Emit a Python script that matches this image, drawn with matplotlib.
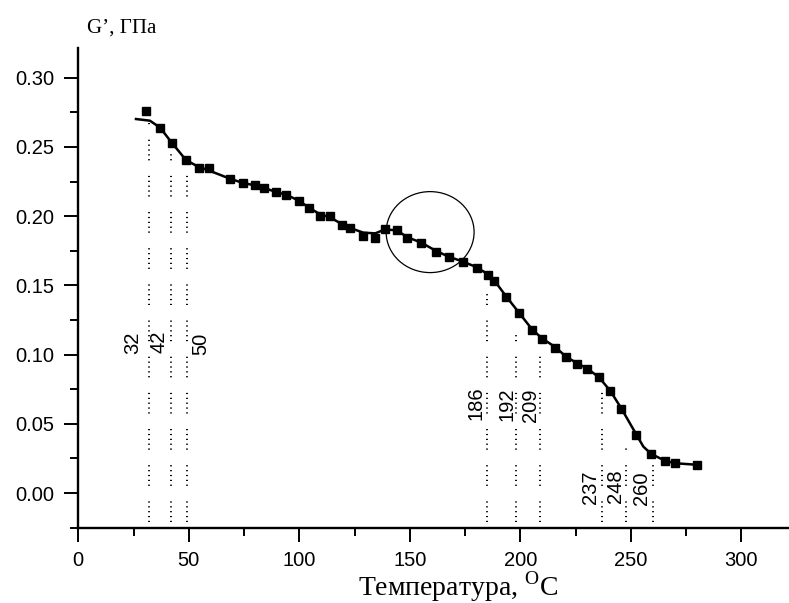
import matplotlib
matplotlib.use("Agg")
import matplotlib.pyplot as plt
from matplotlib.patches import Ellipse
from matplotlib.ticker import MultipleLocator

plt.rcParams['font.family'] = ['Liberation Sans', 'DejaVu Sans']
plt.rcParams['mathtext.fontset'] = 'custom'
plt.rcParams['mathtext.rm'] = 'Liberation Serif'

# measured points (temperature, G')
temp = [30.6, 37.0, 42.3, 48.7, 54.8, 59.3, 68.6, 74.7, 80.0, 84.2, 89.3, 94.0,
        99.9, 104.4, 109.4, 113.9, 119.5, 122.9, 129.0, 134.4, 138.8, 144.3,
        148.9, 155.2, 161.9, 167.7, 174.2, 180.3, 185.4, 188.1, 193.5, 199.4,
        205.3, 210.0, 215.8, 220.7, 225.8, 230.2, 235.6, 240.7, 245.7, 252.4,
        259.3, 265.5, 270.1, 280.0]
gmod = [0.2762, 0.2640, 0.2531, 0.2406, 0.2351, 0.2346, 0.2271, 0.2240, 0.2228,
        0.2206, 0.2177, 0.2155, 0.2110, 0.2057, 0.2001, 0.2001, 0.1934, 0.1917,
        0.1859, 0.1840, 0.1908, 0.1900, 0.1845, 0.1809, 0.1741, 0.1705, 0.1671,
        0.1624, 0.1575, 0.1534, 0.1418, 0.1298, 0.1178, 0.1111, 0.1046, 0.0980,
        0.0932, 0.0898, 0.0836, 0.0739, 0.0607, 0.0421, 0.0282, 0.0233, 0.0219,
        0.0204]

# smoothed curve as drawn in the picture
curve_t = [26.1, 32.4, 37.0, 42.3, 46.1, 48.7, 53.6, 59.6, 68.6, 74.5, 79.9,
           84.4, 89.5, 94.3, 99.9, 104.4, 109.4, 114.2, 119.5, 123.3, 129.0,
           134.4, 138.8, 144.2, 148.9, 155.2, 161.9, 167.7, 174.2, 180.3, 185.4,
           188.1, 193.5, 199.4, 205.3, 210.0, 215.8, 220.7, 225.8, 230.2, 235.6,
           240.7, 245.7, 252.4, 255.7, 259.3, 265.5, 270.1, 280.0]
curve_g = [0.2702, 0.2690, 0.2640, 0.2531, 0.2457, 0.2406, 0.2363, 0.2327,
           0.2271, 0.2240, 0.2223, 0.2202, 0.2175, 0.2153, 0.2112, 0.2061,
           0.2014, 0.1989, 0.1941, 0.1913, 0.1881, 0.1876, 0.1905, 0.1897,
           0.1848, 0.1809, 0.1749, 0.1707, 0.1671, 0.1631, 0.1580, 0.1539,
           0.1423, 0.1303, 0.1183, 0.1115, 0.1055, 0.0985, 0.0937, 0.0901,
           0.0836, 0.0739, 0.0612, 0.0426, 0.0335, 0.0282, 0.0233, 0.0215,
           0.0204]

# transition markers
mark_x = [32, 42, 49, 185, 198, 209, 237, 248, 260]
mark_top = [0.267, 0.2466, 0.239, 0.145, 0.1156, 0.1055, 0.078, 0.033, 0.021]
mark_labels = ['32', '42', '50', '186', '192', '209', '237', '248', '260']
label_x = [24.4, 36.5, 55.4, 179.9, 194.2, 204.8, 231.9, 243.2, 254.8]
label_y = [0.1082, 0.1093, 0.1077, 0.0648, 0.0643, 0.0636, 0.0041, 0.0046, 0.0034]

x_ticks = [0, 50, 100, 150, 200, 250, 300]
y_ticks = [0.00, 0.05, 0.10, 0.15, 0.20, 0.25, 0.30]

fig = plt.figure(figsize=(7.89, 6.03), dpi=100)
ax = fig.add_axes([78.3 / 789, 1 - 528.3 / 603, 1 - 78.3 / 789, (528.3 - 48.3) / 603])

ax.set_xlim(0, 321.6)
ax.set_ylim(-0.0255, 0.3213)

dash = (0, (0.6, 1.9, 0.6, 1.9, 0.6, 1.9, 0.6, 1.9, 0.6, 8))
for mx, mt in zip(mark_x, mark_top):
    ax.plot([mx, mx], [-0.021, mt], color='black', lw=1.4, linestyle=dash)

for lx, ly, lt in zip(label_x, label_y, mark_labels):
    ax.text(lx, ly, lt, rotation=90, ha='center', va='center', fontsize=14.5)

ax.plot(curve_t, curve_g, color='black', lw=1.8, zorder=3)
ax.plot(temp, gmod, linestyle='none', marker='s', ms=5.8, color='black', zorder=4)

ax.add_patch(Ellipse((159.2, 0.1885), 39.8, 0.0585, fill=False, edgecolor='black',
                     lw=0.9, zorder=2))

for s in ['top', 'right']:
    ax.spines[s].set_visible(False)
for s in ['left', 'bottom']:
    ax.spines[s].set_linewidth(1.7)

ax.set_xticks(x_ticks)
ax.set_xticklabels([str(v) for v in x_ticks])
ax.set_yticks(y_ticks)
ax.set_yticklabels(['%.2f' % v for v in y_ticks])
ax.xaxis.set_minor_locator(MultipleLocator(25))
ax.yaxis.set_minor_locator(MultipleLocator(0.025))
ax.tick_params(axis='both', which='major', direction='out', length=10, width=1.4,
               labelsize=14.5)
ax.tick_params(axis='both', which='minor', direction='out', length=5.5, width=1.4)
ax.tick_params(axis='y', which='major', pad=7)
ax.tick_params(axis='x', which='major', pad=6)

fig.text(458 / 789, 1 - 596 / 603, r'Температура, $^{\mathrm{O}}$C',
         ha='center', va='baseline', fontsize=20, family=['Liberation Serif', 'DejaVu Serif'])
fig.text(87 / 789, 1 - 32.3 / 603, 'G’, ГПа', ha='left', va='baseline',
         fontsize=15, family=['Liberation Serif', 'DejaVu Serif'])

fig.savefig('out.png', dpi=100)
